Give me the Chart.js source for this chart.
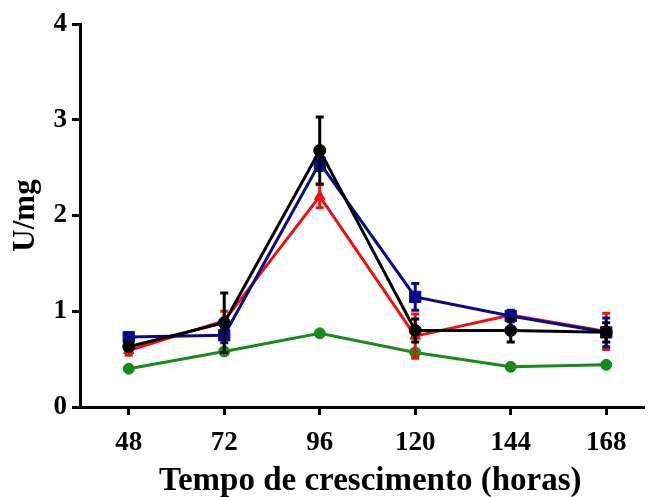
<!DOCTYPE html>
<html>
<head>
<meta charset="utf-8">
<script src="https://cdn.jsdelivr.net/npm/chart.js@4.4.1/dist/chart.umd.min.js"></script>
<style>
  html, body { margin: 0; padding: 0; background: #fff; }
  #wrap { width: 653px; height: 497px; position: relative; }
</style>
</head>
<body>
<div id="wrap"><canvas id="c"></canvas></div>
<script>
// ---- Data ----
const hours = [48, 72, 96, 120, 144, 168];
const yTicks = [0, 1, 2, 3, 4];

const blackValues = [0.63, 0.88, 2.68, 0.80, 0.80, 0.78];
const blackErrors = [0.04, 0.31, 0.35, 0.12, 0.12, 0.10];

const blueValues  = [0.73, 0.75, 2.55, 1.15, 0.95, 0.78];
const blueErrors  = [0.04, 0.08, 0.08, 0.14, 0.06, 0.15];

const redValues   = [0.59, 0.90, 2.20, 0.74, 0.96, 0.79];
const redErrors   = [0.05, 0.10, 0.12, 0.23, 0.04, 0.19];

const greenValues = [0.40, 0.58, 0.77, 0.57, 0.42, 0.44];
const greenErrors = [0.02, 0.03, 0.02, 0.03, 0.02, 0.02];

const xTitle = 'Tempo de crescimento (horas)';
const yTitle = 'U/mg';

// ---- Build datasets ----
function series(label, values, errors, color, style, radius) {
  return {
    label: label,
    data: hours.map((h, i) => ({ x: h, y: values[i] })),
    errors: errors,
    borderColor: color,
    backgroundColor: color,
    pointBackgroundColor: color,
    pointBorderColor: color,
    pointStyle: style,
    pointRadius: radius,
    pointBorderWidth: 1,
    borderWidth: 3,
    tension: 0,
    fill: false
  };
}

const datasets = [
  series('Série preta', blackValues, blackErrors, '#000000', 'circle', 6),
  series('Série azul', blueValues, blueErrors, '#0b0b8a', 'rect', 8),
  series('Série vermelha', redValues, redErrors, '#ee1111', 'triangle', 6),
  series('Série verde', greenValues, greenErrors, '#1a8a1a', 'circle', 5.5)
];

// ---- Error bar plugin (uses the chart's own scales) ----
const errorBars = {
  id: 'errorBars',
  afterDatasetDraw(chart, args) {
    const ds = chart.data.datasets[args.index];
    if (!ds.errors) return;
    const xs = chart.scales.x, ys = chart.scales.y;
    const ctx = chart.ctx;
    ctx.save();
    ctx.strokeStyle = ds.borderColor;
    ctx.lineWidth = 3;
    ds.data.forEach((p, i) => {
      const e = ds.errors[i];
      const px = xs.getPixelForValue(p.x);
      const top = ys.getPixelForValue(p.y + e);
      const bot = ys.getPixelForValue(p.y - e);
      ctx.beginPath();
      ctx.moveTo(px, top); ctx.lineTo(px, bot);
      ctx.moveTo(px - 4, top); ctx.lineTo(px + 4, top);
      ctx.moveTo(px - 4, bot); ctx.lineTo(px + 4, bot);
      ctx.stroke();
    });
    ctx.restore();
  }
};

const serif = '"Liberation Serif", "Times New Roman", serif';

new Chart(document.getElementById('c'), {
  type: 'line',
  data: { datasets: datasets },
  plugins: [errorBars],
  options: {
    responsive: true,
    maintainAspectRatio: false,
    animation: false,
    layout: { padding: { top: 24, right: 6, left: 0, bottom: 0 } },
    plugins: { legend: { display: false }, tooltip: { enabled: false } },
    scales: {
      x: {
        type: 'linear',
        min: 35.75,
        max: 177.5,
        afterBuildTicks(scale) { scale.ticks = hours.map(v => ({ value: v })); },
        afterFit(scale) { scale.height = 90; },
        grid: { drawOnChartArea: false, drawTicks: true, tickLength: 8, tickWidth: 3, tickColor: '#000' },
        border: { display: true, width: 3, color: '#000' },
        ticks: { color: '#000', font: { family: serif, size: 27, weight: 'bold' }, padding: 12, maxRotation: 0 },
        title: { display: true, text: '  ' + xTitle, color: '#000', font: { family: serif, size: 33, weight: 'bold', lineHeight: 0.7 }, padding: { top: 0, bottom: 4 } }
      },
      y: {
        type: 'linear',
        min: 0,
        max: 4,
        afterBuildTicks(scale) { scale.ticks = yTicks.map(v => ({ value: v })); },
        afterFit(scale) { scale.width = 80; },
        grid: { drawOnChartArea: false, drawTicks: true, tickLength: 8, tickWidth: 3, tickColor: '#000' },
        border: { display: true, width: 3, color: '#000' },
        ticks: { color: '#000', font: { family: serif, size: 27, weight: 'bold' }, padding: 5 },
        title: { display: true, text: yTitle, color: '#000', font: { family: serif, size: 31, weight: 'bold' }, padding: { top: 7, bottom: 7 } }
      }
    }
  }
});
</script>
</body>
</html>
